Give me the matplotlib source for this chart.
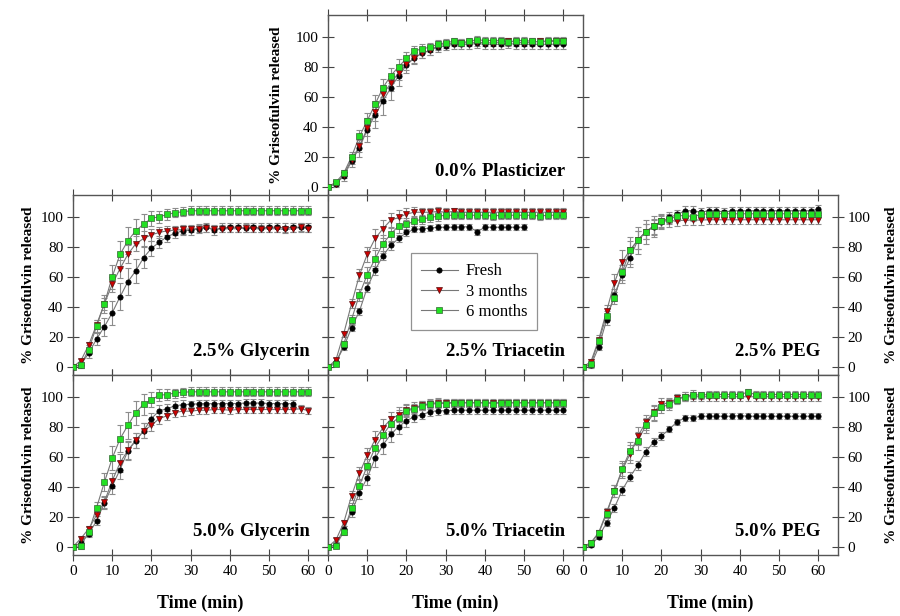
import numpy as np
import matplotlib
matplotlib.use("Agg")
import matplotlib.pyplot as plt

plt.rcParams['font.family'] = ['Liberation Serif', 'DejaVu Serif']

# sampling times (min)
time = np.arange(0, 61, 2)

labels = ["Fresh", "3 months", "6 months"]

# % released, one list per storage time, per formulation
plast0_fresh = [0, 2, 7, 17, 26, 38, 48, 57, 66, 74, 81, 86, 89, 91, 93, 94, 95, 95, 95, 95.5, 95, 95, 95, 95.5, 95, 95, 95, 95, 95, 95, 95]
plast0_3m = [0, 2, 8, 18, 27, 39, 50, 61.5, 69, 76, 81.5, 86, 89, 91, 94, 95, 96, 96, 96, 96.5, 96, 96, 96.5, 97, 96.5, 96, 96.5, 97, 96.5, 97, 97]
plast0_6m = [0, 3, 9, 20, 33.5, 44, 55, 66, 74, 80, 85.5, 90.5, 92, 93, 95, 96, 97, 96, 97, 98, 97.5, 97.5, 97.5, 96.5, 97.5, 97.5, 97, 96.5, 97.5, 97.5, 97.5]

gly25_fresh = [0, 1.5, 9, 18.5, 26.7, 36, 46.7, 56.7, 64, 72.7, 79, 83, 86.7, 89, 90.7, 91, 92, 93, 91, 92.5, 93, 93, 92.5, 93, 92.5, 93, 93, 92.5, 93, 93, 93]
gly25_3m = [0, 4, 14.5, 28, 42, 55, 65.5, 75, 82, 85.5, 88, 89.5, 90.7, 91, 91.5, 92, 92, 92.5, 92, 92, 92, 92, 92.5, 92, 92, 92, 92, 91.5, 92, 93, 92]
gly25_6m = [0, 1, 11.5, 27, 42, 60, 75, 84, 90.7, 95, 99, 100, 101.5, 102.7, 103.3, 104, 104, 104, 104, 104, 104, 104, 104, 104, 104, 104, 104, 104, 104, 104, 104]

tri25_fresh = [0, 3, 13, 26, 37, 52.7, 64.4, 74, 81, 85.5, 89.5, 91.5, 92, 92.4, 93, 93, 93, 93.3, 93.3, 90, 93, 93, 93, 93, 93, 93]
tri25_3m = [0, 4.4, 22, 42, 61, 75, 85.5, 92, 97.7, 99.5, 101.8, 103, 103, 103, 103.5, 103, 103.5, 103, 103, 103, 103, 103, 103, 103, 103, 103, 103, 103, 103, 103, 103]
tri25_6m = [0, 2, 15, 31.5, 48, 61.5, 72, 82, 88.4, 94, 95, 97, 98.4, 99.5, 100.4, 101, 101, 101, 101, 101, 101, 100.5, 101, 101, 101, 101, 101, 100.5, 101, 101, 101]

peg25_fresh = [0, 1, 13, 31, 48, 61, 72.7, 84.4, 90, 93, 96.7, 99.5, 101.5, 104, 104, 103, 104, 104, 103, 104, 104, 104, 104, 104, 104, 104, 104, 104, 104, 104, 105]
peg25_3m = [0, 3.3, 18, 37, 56, 70, 77.8, 84.4, 90, 93.8, 97, 97.3, 97.3, 97.8, 97.8, 97.8, 98, 98, 98, 98, 98, 98, 98, 98, 98, 98, 98, 98, 98, 98, 98]
peg25_6m = [0, 1.8, 17, 34, 46, 63, 77.8, 84.4, 90, 93.8, 97, 98.4, 100.4, 101, 100, 101.5, 102, 102, 102, 102, 102, 102, 102, 102, 102, 102, 102, 102, 102, 102, 102]

gly50_fresh = [0, 2.7, 8.4, 17.3, 29.3, 40.4, 51.5, 64, 70.7, 77.3, 85.5, 90.7, 92, 94, 94.7, 95, 95.3, 95.5, 95.3, 95.5, 95.5, 95.5, 95.8, 95.8, 95.8, 95.5, 95.5, 95.3, 95.5]
gly50_3m = [0, 5.5, 12, 21, 30, 44, 56, 64.4, 71, 77.3, 81, 85.5, 87.3, 89.5, 90.4, 90.4, 91, 91, 91.5, 91.5, 91, 91.5, 91.5, 91.5, 91.5, 91.5, 91.5, 91.5, 91.5, 92, 90.7]
gly50_6m = [0, 0.7, 10, 26, 43, 59, 72, 81, 89.5, 95, 98, 101, 101.5, 102.5, 103, 103.3, 103.3, 103.3, 103.3, 103.3, 103.3, 103.3, 103.3, 103.3, 103.3, 103.3, 103.3, 103.3, 103.3, 103.3, 103.3]

tri50_fresh = [0, 1.5, 12, 23, 36, 46, 59, 67.8, 75, 80, 84, 86.7, 88, 90, 90.7, 90.7, 91, 91, 91, 91, 91, 91, 91, 91, 91, 91, 91, 91, 91, 91, 91]
tri50_3m = [0, 4.4, 16, 34, 49, 61, 71.5, 79.3, 85, 88, 91, 92.7, 94.4, 95.5, 96, 96, 96, 96, 96, 96, 96, 96, 96, 96, 96, 96, 96, 96, 96, 96, 96]
tri50_6m = [0, 0.7, 10, 26, 40.7, 53.8, 66, 74.4, 82, 86, 90.4, 92, 94, 95, 95.5, 95.5, 96, 96, 96, 96, 96, 95.5, 96, 96, 96, 96, 96, 96, 96, 96, 96]

peg50_fresh = [0, 1, 6.7, 16, 26, 37.8, 46.7, 54.4, 63.3, 69.8, 73.8, 78.4, 83.3, 86, 86, 87, 87, 87, 87, 87, 87.5, 87, 87, 87, 87, 87, 87, 87, 87, 87, 87]
peg50_3m = [0, 2.7, 9.5, 23, 37, 51, 62, 73.7, 83, 89.7, 95, 96, 99, 100, 100, 100, 100, 100, 100, 100, 100, 100, 100, 100, 100, 100, 100, 100, 100, 100, 100]
peg50_6m = [0, 2.2, 9, 22, 37, 52, 64, 70.4, 81, 89, 93, 95, 98, 100, 101.5, 101, 101.5, 101.5, 101.5, 101.5, 101.5, 103, 101.5, 101.5, 101.5, 101.5, 101.5, 101.5, 101.5, 101.5, 101.5]

# standard deviations (approximate)
err_rise = [0, 1.5, 2, 3, 4, 5, 6, 6, 5, 5, 4, 3.5, 3, 3, 3, 2.5, 2.5, 2.5, 2.5, 2.5, 2.5, 2.5, 2.5, 2.5, 2.5, 2.5, 2.5, 2.5, 2.5, 2.5, 2.5]
err_wide = [0, 2, 3, 4, 6, 8, 9, 9, 8, 7, 5, 4, 3.5, 3, 3, 3, 3, 3, 3, 3, 3, 3, 3, 3, 3, 3, 3, 3, 3, 3, 3]
err_small = [0, 1, 1.5, 2, 2.5, 3, 3, 3, 3, 2.5, 2.5, 2, 2, 2, 2, 2, 2, 2, 2, 2, 2, 2, 2, 2, 2, 2, 2, 2, 2, 2, 2]

panels = [
    ("0.0% Plasticizer", [plast0_fresh, plast0_3m, plast0_6m], [err_wide, err_rise, err_rise]),
    ("2.5% Glycerin", [gly25_fresh, gly25_3m, gly25_6m], [err_wide, err_rise, err_wide]),
    ("2.5% Triacetin", [tri25_fresh, tri25_3m, tri25_6m], [err_small, err_rise, err_rise]),
    ("2.5% PEG", [peg25_fresh, peg25_3m, peg25_6m], [err_rise, err_wide, err_rise]),
    ("5.0% Glycerin", [gly50_fresh, gly50_3m, gly50_6m], [err_rise, err_rise, err_wide]),
    ("5.0% Triacetin", [tri50_fresh, tri50_3m, tri50_6m], [err_rise, err_rise, err_rise]),
    ("5.0% PEG", [peg50_fresh, peg50_3m, peg50_6m], [err_small, err_rise, err_rise]),
]

W, H = 900, 616
fig = plt.figure(figsize=(W / 100, H / 100), dpi=100)

col_x = [73, 328, 583]
row_y = [15, 195, 375]
pw, ph = 255, 180
# (column, row) of each panel
slots = [(1, 0), (0, 1), (1, 1), (2, 1), (0, 2), (1, 2), (2, 2)]

styles = [
    dict(marker='o', color='black', ms=3.8, mec='black'),
    dict(marker='v', color='#cc0000', ms=4.4, mec='#551111'),
    dict(marker='s', color='#22e022', ms=4.2, mec='#336633'),
]

axes = []
for (title, series, errs), (c, r) in zip(panels, slots):
    ax = fig.add_axes([col_x[c] / W, 1 - (row_y[r] + ph) / H, pw / W, ph / H])
    for vals, e, st, lab in zip(series, errs, styles, labels):
        t = time[:len(vals)]
        ax.errorbar(t, vals, yerr=e[:len(vals)], fmt='none', ecolor='#8c8c8c',
                    elinewidth=0.8, capsize=2.2, capthick=0.8, zorder=2)
        ax.plot(t, vals, color='#777777', lw=0.8, zorder=3)
        ax.plot(t, vals, ls='none', marker=st['marker'], ms=st['ms'], mfc=st['color'],
                mec=st['mec'], mew=0.5, zorder=4)
    ax.set_xlim(0, 65)
    ax.set_ylim(-5.5, 114.5)
    ax.set_xticks(range(0, 61, 10))
    ax.set_yticks(range(0, 101, 20))
    ax.tick_params(direction='inout', length=8, width=0.8, color='#444444',
                   top=True, right=True, labelsize=11, pad=3)
    for sp in ax.spines.values():
        sp.set_color('#555555')
        sp.set_linewidth(1.0)
    ax.text(0.93, 0.13, title, transform=ax.transAxes, ha='right', va='center',
            fontsize=13.5, fontweight='bold')

    ax.tick_params(labelbottom=(r == 2))
    if r == 2:
        ax.set_xlabel("Time (min)", fontsize=13, fontweight='bold')
        ax.xaxis.set_label_coords(0.5, -0.22)
    if c == 0 or r == 0:
        ax.set_ylabel("% Griseofulvin released", fontsize=11, fontweight='bold')
        ax.yaxis.set_label_coords(-0.175 if r == 0 else -0.15, 0.5)
    elif c == 2:
        ax.tick_params(labelleft=False, labelright=True)
        ax.yaxis.set_label_position('right')
        ax.set_ylabel("% Griseofulvin released", fontsize=11, fontweight='bold',
                      rotation=90)
        ax.yaxis.set_label_coords(1.185, 0.5)
    else:
        ax.tick_params(labelleft=False)
    axes.append(ax)

# legend in the 2.5% Triacetin panel
leg_ax = axes[2]
handles = []
for st, lab in zip(styles, labels):
    h, = leg_ax.plot([], [], color='#777777', lw=0.8, marker=st['marker'], ms=st['ms'],
                     mfc=st['color'], mec=st['mec'], mew=0.5, label=lab)
    handles.append(h)
leg = leg_ax.legend(handles=handles, loc='upper left', bbox_to_anchor=(0.325, 0.675),
                    fontsize=12, frameon=True, fancybox=False, handlelength=2.2,
                    labelspacing=0.25, borderpad=0.6, handletextpad=0.5, borderaxespad=0)
leg.get_frame().set_edgecolor('#777777')
leg.get_frame().set_linewidth(0.9)

fig.savefig("out.png", dpi=100)
